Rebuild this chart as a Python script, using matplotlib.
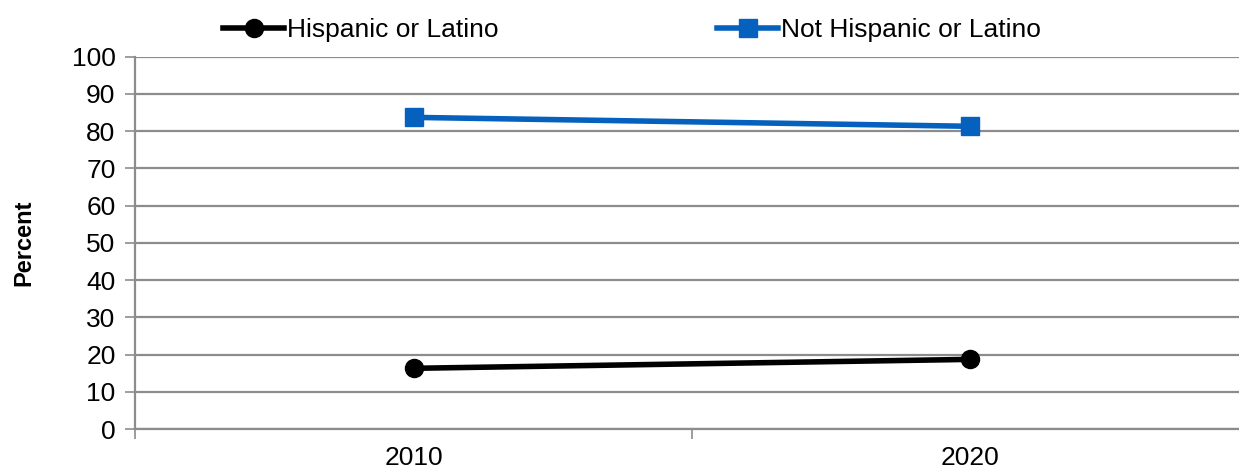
import matplotlib
matplotlib.use("Agg")
import matplotlib.pyplot as plt
import numpy as np

years = ["2010", "2020"]
hispanic = [16.3, 18.7]
not_hispanic = [83.7, 81.3]
yticks = list(range(0, 101, 10))

plt.rcParams["font.family"] = ["Liberation Sans", "DejaVu Sans"]

grid_c = "#8c8c8c"
fig = plt.figure(figsize=(12.39, 4.72), dpi=100)
ax = fig.add_axes([0.109, 0.0911, 0.899, 0.7888])

x = np.arange(len(years))
ax.plot(x, hispanic, color="black", lw=4, marker="o", ms=13, label="Hispanic or Latino", zorder=3)
ax.plot(x, not_hispanic, color="#0561bd", lw=4, marker="s", ms=13, label="Not Hispanic or Latino", zorder=3)

ax.set_ylim(0, 100)
ax.set_yticks(yticks)
ax.set_xlim(-0.5, len(years) - 0.5)
ax.set_xticks(np.arange(-0.5, len(years), 1.0))
ax.set_xticklabels([])
ax.set_xticks(x, minor=True)
ax.set_xticklabels(years, minor=True)
ax.tick_params(axis="x", which="minor", length=0, pad=12, labelsize=19)
ax.tick_params(axis="x", which="major", length=7, width=1.2, color=grid_c, direction="out")
ax.tick_params(axis="y", length=7, width=1.2, color=grid_c, labelsize=19, pad=7)

ax.grid(axis="y", color=grid_c, lw=1.6)
ax.set_axisbelow(True)
for s in ["top", "right"]:
    ax.spines[s].set_visible(False)
for s in ["left", "bottom"]:
    ax.spines[s].set_color(grid_c)
    ax.spines[s].set_linewidth(1.6)

ax.set_ylabel("Percent", fontsize=17, fontweight="bold")
ax.yaxis.set_label_coords(-0.0898, 0.5)

fig.legend(loc="upper center", bbox_to_anchor=(0.51, 1.012), ncol=2, frameon=False,
           fontsize=19, handlelength=2.3, handletextpad=0.1, columnspacing=8.3)

fig.savefig("out.png", dpi=100)
